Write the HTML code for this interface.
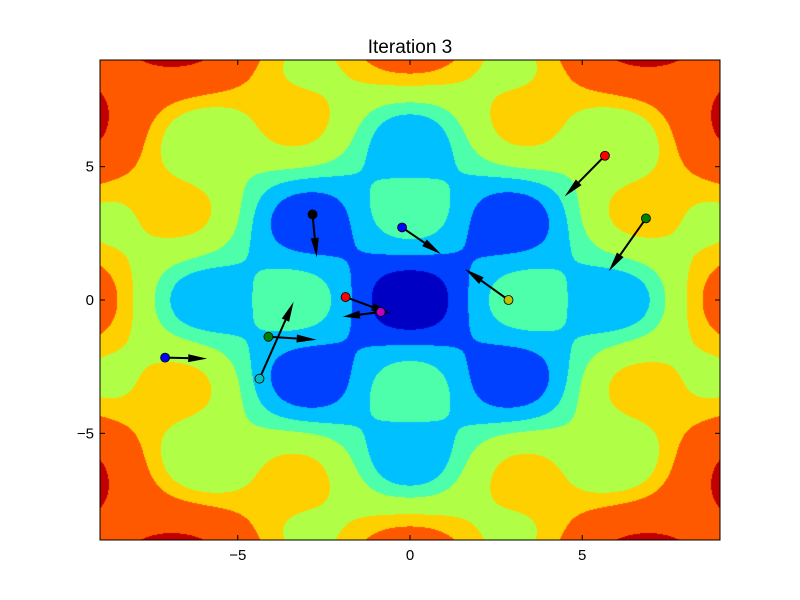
<!DOCTYPE html>
<html><head><meta charset="utf-8"><style>
body{margin:0;background:#fff;width:800px;height:600px;overflow:hidden;font-family:"Liberation Sans",sans-serif}
#wrap{position:relative;width:800px;height:600px}
canvas,svg{position:absolute;left:0;top:0}
</style></head><body>
<div id="wrap">
<canvas id="c" width="800" height="600"></canvas>
<svg id="s" width="800" height="600"></svg>
</div>
<script>
const levels=[-12,6.5,25,42,70,90,143];
const levelColors=["#0000c4","#0040ff","#00c0ff","#4dffaa","#b0ff46","#ffd000","#ff5900","#c00000"];
const ampA=30;
const xTicks=[-5,0,5];
const yTicks=[-5,0,5];
const startX=[5.66,6.85,-2.83,-0.23,2.86,-1.87,-0.85,-4.11,-4.37,-7.11];
const startY=[5.41,3.06,3.21,2.72,0,0.11,-0.45,-1.38,-2.95,-2.16];
const endX=[4.49,5.77,-2.71,0.90,1.60,-0.55,-1.95,-2.71,-3.38,-5.89];
const endY=[3.88,1.08,1.60,1.72,1.16,-0.52,-0.63,-1.49,-0.07,-2.20];
const dotColors=["#ff0000","#008000","#000000","#0000ff","#c0c000","#ff0000","#c000c0","#008000","#00bfbf","#0000ff"];
const L=100,R=720,T=60,B=540,X0=-9,X1=9,Y0=-9,Y1=9;
const sx=v=>L+(v-X0)/(X1-X0)*(R-L);
const sy=v=>B-(v-Y0)/(Y1-Y0)*(B-T);
function f(x,y){return x*x+y*y-ampA*Math.cos(x)*Math.cos(y);}
const cv=document.getElementById('c'),ctx=cv.getContext('2d');
const img=ctx.createImageData(R-L,B-T);
const rgb=levelColors.map(h=>[parseInt(h.slice(1,3),16),parseInt(h.slice(3,5),16),parseInt(h.slice(5,7),16)]);
for(let j=0;j<B-T;j++){for(let i=0;i<R-L;i++){
 const x=X0+(i+0.5)/(R-L)*(X1-X0),y=Y1-(j+0.5)/(B-T)*(Y1-Y0);
 const v=f(x,y);let k=0;while(k<levels.length&&v>levels[k])k++;
 const c=rgb[k],p=(j*(R-L)+i)*4;img.data[p]=c[0];img.data[p+1]=c[1];img.data[p+2]=c[2];img.data[p+3]=255;}}
ctx.putImageData(img,L,T);
const s=document.getElementById('s'),NS="http://www.w3.org/2000/svg";
function mk(t,a,p){const e=document.createElementNS(NS,t);for(const k in a)e.setAttribute(k,a[k]);(p||s).appendChild(e);return e;}
const frame=mk('rect',{x:L,y:T,width:R-L,height:B-T,fill:'none',stroke:'#000','stroke-width':1});


xTicks.forEach(t=>{const x=sx(t);
 mk('line',{x1:x,y1:B,x2:x,y2:B-5,stroke:'#000'});mk('line',{x1:x,y1:T,x2:x,y2:T+5,stroke:'#000'});
 const tx=mk('text',{x:x,y:B+20,'text-anchor':'middle','font-size':15,fill:'#000'});tx.textContent=(t<0?'\u2212'+(-t):t);
 
 });
yTicks.forEach(t=>{const y=sy(t);
 mk('line',{x1:L,y1:y,x2:L+5,y2:y,stroke:'#000'});mk('line',{x1:R,y1:y,x2:R-5,y2:y,stroke:'#000'});
 const tx=mk('text',{x:L-6,y:y+5,'text-anchor':'end','font-size':15,fill:'#000'});tx.textContent=(t<0?'\u2212'+(-t):t);
 
 });
const title=mk('text',{x:410,y:53,'text-anchor':'middle','font-size':19,fill:'#000'});title.textContent='Iteration 3';


startX.forEach((_,i)=>{
 const x1=sx(startX[i]),y1=sy(startY[i]),x2=sx(endX[i]),y2=sy(endY[i]);
 const dx=x2-x1,dy=y2-y1,len=Math.hypot(dx,dy),ux=dx/len,uy=dy/len,hl=Math.min(20,len*0.45),hw=4;
 const bx=x2-ux*hl,by=y2-uy*hl;
 const g=mk('g',{});
 
 
 mk('line',{x1:x1,y1:y1,x2:bx,y2:by,stroke:'#000','stroke-width':2},g);
 mk('polygon',{points:`${x2},${y2} ${bx-uy*hw},${by+ux*hw} ${bx+uy*hw},${by-ux*hw}`,fill:'#000'},g);
 const d=mk('circle',{cx:x1,cy:y1,r:4.5,fill:dotColors[i],stroke:'#000','stroke-width':0.8});
 
 
});
</script>
</body></html>
